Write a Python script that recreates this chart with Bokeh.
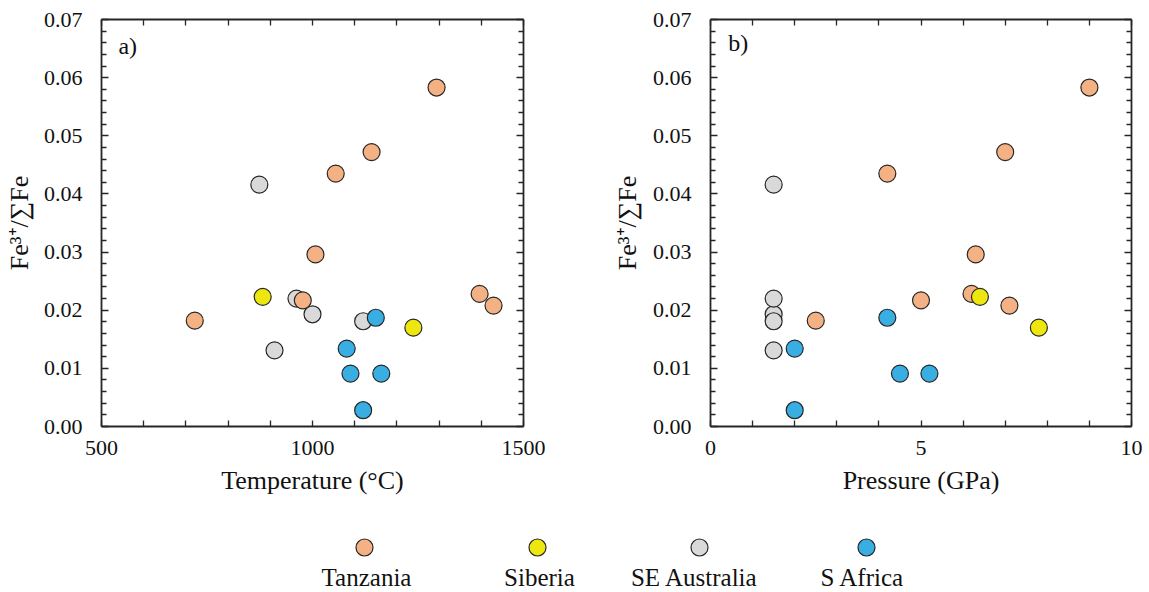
from bokeh.plotting import figure
from bokeh.models import (Range1d, LinearAxis, FixedTicker, NumeralTickFormatter,
                          Label, ColumnDataSource, CustomJSTickFormatter)
from bokeh.layouts import column, row
from bokeh.embed import file_html
from bokeh.resources import INLINE
from bokeh.core.properties import value

# ---------------- data ----------------
series_names = ["Tanzania", "Siberia", "SE Australia", "S Africa"]
series_colors = ["#F4B183", "#EEE70F", "#D9D9D9", "#38AEE2"]

tanzania_fe = [0.0583, 0.0472, 0.0435, 0.0296, 0.0182, 0.0217, 0.0228, 0.0208]
tanzania_temp = [1294, 1140, 1055, 1007, 721, 977, 1396, 1429]
tanzania_pres = [9.0, 7.0, 4.2, 6.3, 2.5, 5.0, 6.2, 7.1]

siberia_fe = [0.0223, 0.0170]
siberia_temp = [882, 1239]
siberia_pres = [6.4, 7.8]

seaus_fe = [0.0416, 0.0193, 0.0220, 0.0181, 0.0131]
seaus_temp = [874, 1000, 962, 1120, 910]
seaus_pres = [1.5, 1.5, 1.5, 1.5, 1.5]

safrica_fe = [0.0187, 0.0134, 0.0091, 0.0091, 0.0028]
safrica_temp = [1150, 1081, 1090, 1163, 1120]
safrica_pres = [4.2, 2.0, 4.5, 5.2, 2.0]

temp_major = [500, 1000, 1500]
temp_minor = [600, 700, 800, 900, 1100, 1200, 1300, 1400]
pres_major = [0, 5, 10]
pres_minor = [1, 2, 3, 4, 6, 7, 8, 9]
fe_major = [0.0, 0.01, 0.02, 0.03, 0.04, 0.05, 0.06, 0.07]
fe_minor = [0.002, 0.004, 0.006, 0.008, 0.012, 0.014, 0.016, 0.018,
            0.022, 0.024, 0.026, 0.028, 0.032, 0.034, 0.036, 0.038,
            0.042, 0.044, 0.046, 0.048, 0.052, 0.054, 0.056, 0.058,
            0.062, 0.064, 0.066, 0.068]

# drawing order (later on top)
draw_order = [
    ("SE Australia", seaus_temp, seaus_pres, seaus_fe),
    ("Tanzania", tanzania_temp, tanzania_pres, tanzania_fe),
    ("Siberia", siberia_temp, siberia_pres, siberia_fe),
    ("S Africa", safrica_temp, safrica_pres, safrica_fe),
]
color_of = dict(zip(series_names, series_colors))

FONT = "'Liberation Serif', 'Times New Roman', serif"
LINE = "#262626"
TXT = "#111111"


def style_axis(ax, ticker, labels=True, fmt=None):
    ax.ticker = ticker
    ax.axis_line_color = LINE
    ax.axis_line_width = 1.8
    ax.major_tick_line_color = LINE
    ax.minor_tick_line_color = LINE
    ax.major_tick_line_width = 1.3
    ax.minor_tick_line_width = 1.3
    ax.major_tick_in = 7
    ax.major_tick_out = 0
    ax.minor_tick_in = 5
    ax.minor_tick_out = 0
    ax.major_label_text_font = FONT
    ax.major_label_text_font_size = "22px"
    ax.major_label_text_color = TXT
    ax.axis_label_text_font = FONT
    ax.axis_label_text_font_size = "26px"
    ax.axis_label_text_font_style = "normal"
    ax.axis_label_text_color = TXT
    if labels:
        if fmt is not None:
            ax.formatter = fmt
    else:
        ax.formatter = CustomJSTickFormatter(code="return '';")
        ax.major_label_standoff = 0


def make_panel(xr, xmaj, xmin, xlabel, tag, tag_pos, width, mb_right, mb_top, use_temp,
               ylabel_standoff):
    p = figure(width=width, height=520, x_range=Range1d(*xr), y_range=Range1d(0, 0.07),
               output_backend="svg", toolbar_location=None,
               x_axis_type=None, y_axis_type=None,
               min_border_left=101, min_border_right=mb_right,
               min_border_top=mb_top, min_border_bottom=520 - mb_top - 411)
    p.outline_line_color = None
    p.background_fill_color = "white"
    p.border_fill_color = "white"

    xt = FixedTicker(ticks=xmaj, minor_ticks=xmin)
    yt = FixedTicker(ticks=fe_major, minor_ticks=fe_minor)

    bottom = LinearAxis(axis_label=xlabel)
    style_axis(bottom, xt)
    bottom.major_tick_in = 6
    bottom.minor_tick_in = 6
    bottom.major_label_standoff = 14
    bottom.axis_label_standoff = 8
    p.add_layout(bottom, "below")

    top = LinearAxis()
    style_axis(top, FixedTicker(ticks=xmaj, minor_ticks=xmin), labels=False)
    top.major_tick_in = 6
    top.minor_tick_in = 6
    p.add_layout(top, "above")

    left = LinearAxis(axis_label="Fe\u00b3\u207a/\u2211Fe")
    style_axis(left, yt, fmt=NumeralTickFormatter(format="0.00"))
    left.major_label_standoff = 19
    left.axis_label_standoff = ylabel_standoff
    p.add_layout(left, "left")

    right = LinearAxis()
    style_axis(right, FixedTicker(ticks=fe_major, minor_ticks=fe_minor), labels=False)
    p.add_layout(right, "right")

    for name, temp, pres, fe in draw_order:
        src = ColumnDataSource(dict(x=temp if use_temp else pres, y=fe))
        p.scatter("x", "y", source=src, size=17, marker="circle",
                  fill_color=color_of[name], line_color=LINE, line_width=1.2)

    p.add_layout(Label(x=tag_pos[0], y=tag_pos[1], text=tag, text_font=FONT,
                       text_font_size="24px", text_color=TXT, text_baseline="middle"))
    return p


pa = make_panel((500, 1500), temp_major, temp_minor, "Temperature (\u00b0C)", "a)",
                (540, 0.0655), 609, 86, 15, True, 7)
pb = make_panel((0, 10), pres_major, pres_minor, "Pressure (GPa)", "b)",
                (0.42, 0.0659), 540, 18, 19, False, 8)

# ---------------- legend ----------------
legend_marker_x = [364, 537, 699, 866]
legend_text_x = [366, 539, 694, 862]
leg = figure(width=1149, height=72, x_range=Range1d(0, 1149), y_range=Range1d(72, 0),
             output_backend="svg", toolbar_location=None, x_axis_type=None, y_axis_type=None,
             min_border=0)
leg.outline_line_color = None
leg.background_fill_color = "white"
leg.border_fill_color = "white"
leg.scatter(x=legend_marker_x, y=[27] * 4, size=17, fill_color=series_colors,
            line_color=LINE, line_width=1.2)
leg.text(x=legend_text_x, y=[57] * 4, text=series_names, text_font=value(FONT),
         text_font_size="25px", text_color=TXT, text_align="center", text_baseline="middle")

layout = column(row(pa, pb), leg)
open("out.html", "w").write(file_html(layout, INLINE))
